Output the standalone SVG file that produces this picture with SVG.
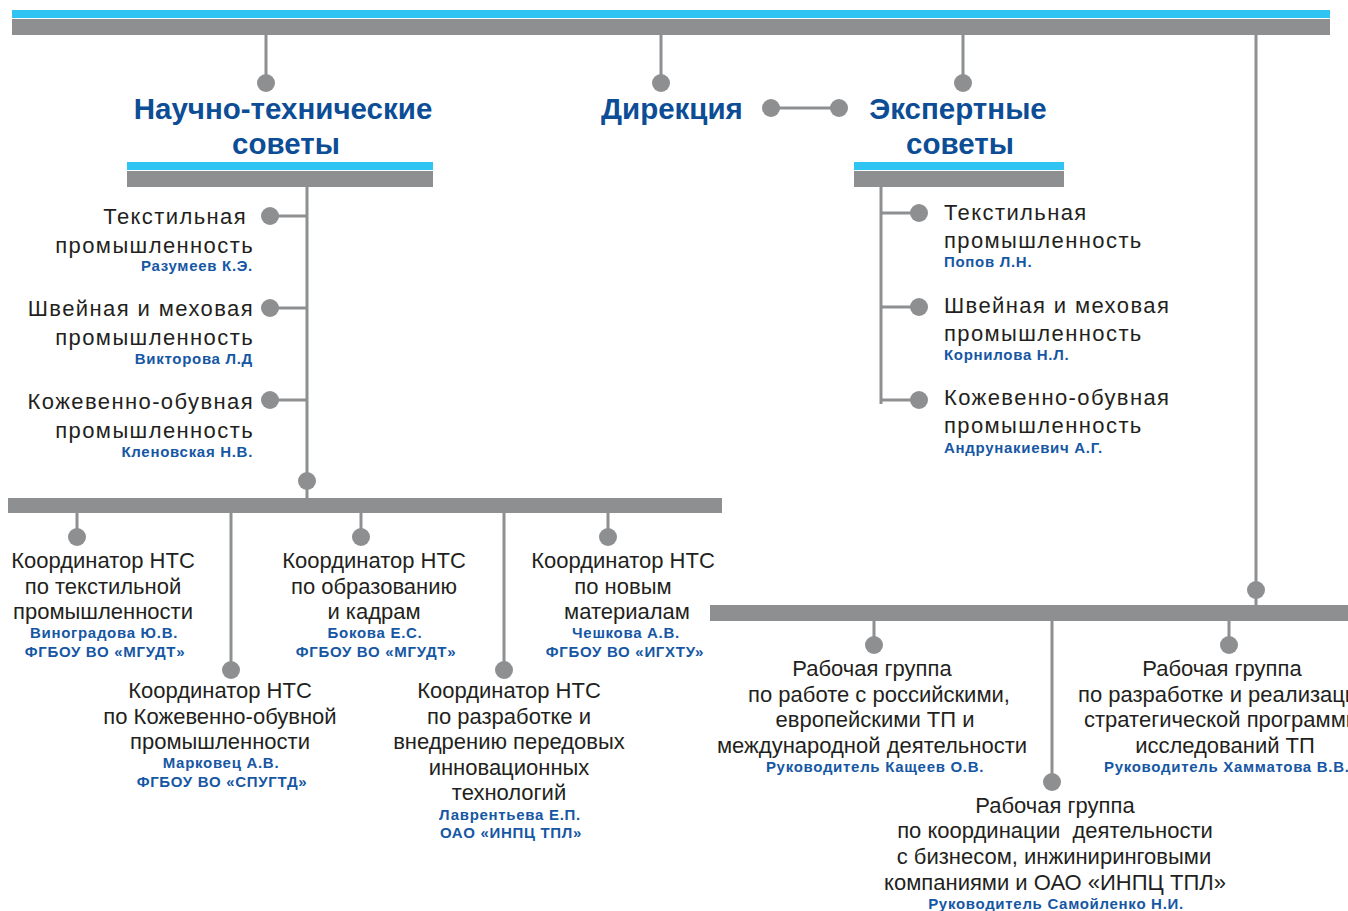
<svg xmlns="http://www.w3.org/2000/svg" width="1348" height="911" viewBox="0 0 1348 911">
<style>
.cy{fill:#2FC4F2}
.gr{fill:#8E8F91}
.ln{stroke:#8E8F91;stroke-width:3;fill:none}
.dot{fill:#8E8F91}
.t{font-family:"Liberation Sans",Arial,sans-serif;font-size:22px;fill:#231F20}
.w{letter-spacing:1.4px}
.h{font-family:"Liberation Sans",Arial,sans-serif;font-size:29.5px;font-weight:bold;fill:#0C4D96}
.n{font-family:"Liberation Sans",Arial,sans-serif;font-size:15px;font-weight:bold;fill:#1657A4;letter-spacing:0.7px}
.m{text-anchor:middle}
.e{text-anchor:end}
</style>
<rect width="1348" height="911" fill="#fff"/>

<!-- top header bar -->
<g id="top-bar">
<rect class="cy" x="12" y="10" width="1318" height="8"/>
<rect class="gr" x="12" y="19" width="1318" height="16"/>
</g>

<!-- connectors -->
<g id="connectors">
<path class="ln" d="M266 35V83M661 35V83M963 35V83M771 108H839M1256 35V605"/>
<path class="ln" d="M307 187V498M270 216H307M270 308H307M270 400H307"/>
<path class="ln" d="M881 187V404M881 213H919M881 307H919M881 400H919"/>
<path class="ln" d="M77 513V537M231 513V670M361 513V537M504 513V670M608 513V537"/>
<path class="ln" d="M874 621V645M1052 621V782M1229 621V645"/>
<g class="dot">
<circle cx="266" cy="83" r="9"/><circle cx="661" cy="83" r="9"/><circle cx="963" cy="83" r="9"/>
<circle cx="771" cy="108" r="9"/><circle cx="839" cy="108" r="9"/>
<circle cx="270" cy="216" r="9"/><circle cx="270" cy="308" r="9"/><circle cx="270" cy="400" r="9"/>
<circle cx="307" cy="481" r="9"/>
<circle cx="919" cy="213" r="9"/><circle cx="919" cy="307" r="9"/><circle cx="919" cy="400" r="9"/>
<circle cx="77" cy="537" r="9"/><circle cx="231" cy="670" r="9"/><circle cx="361" cy="537" r="9"/>
<circle cx="504" cy="670" r="9"/><circle cx="608" cy="537" r="9"/>
<circle cx="1256" cy="590" r="9"/>
<circle cx="874" cy="645" r="9"/><circle cx="1052" cy="782" r="9"/><circle cx="1229" cy="645" r="9"/>
</g>
</g>

<!-- Scientific-technical councils -->
<g id="nts">
<text class="h m" x="283" y="119">Научно-технические</text>
<text class="h m" x="286" y="154">советы</text>
<rect class="cy" x="127" y="162" width="306" height="8"/>
<rect class="gr" x="127" y="171" width="306" height="16"/>
</g>

<g id="direction">
<text class="h" x="601" y="119">Дирекция</text>
</g>

<g id="experts">
<text class="h m" x="958" y="119">Экспертные</text>
<text class="h m" x="960" y="154">советы</text>
<rect class="cy" x="854" y="162" width="210" height="8"/>
<rect class="gr" x="854" y="171" width="210" height="16"/>
</g>

<g id="nts-textile">
<text class="t w e" x="247" y="224">Текстильная</text>
<text class="t w e" x="254" y="253">промышленность</text>
<text class="n e" x="253" y="271">Разумеев К.Э.</text>
</g>
<g id="nts-sewing">
<text class="t w e" x="254" y="316">Швейная и меховая</text>
<text class="t w e" x="254" y="345">промышленность</text>
<text class="n e" x="253" y="364">Викторова Л.Д</text>
</g>
<g id="nts-leather">
<text class="t w e" x="254" y="409">Кожевенно-обувная</text>
<text class="t w e" x="254" y="438">промышленность</text>
<text class="n e" x="253" y="457">Кленовская Н.В.</text>
</g>

<g id="exp-textile">
<text class="t w" x="944" y="220">Текстильная</text>
<text class="t w" x="944" y="248">промышленность</text>
<text class="n" x="944" y="267">Попов Л.Н.</text>
</g>
<g id="exp-sewing">
<text class="t w" x="944" y="313">Швейная и меховая</text>
<text class="t w" x="944" y="341">промышленность</text>
<text class="n" x="944" y="360">Корнилова Н.Л.</text>
</g>
<g id="exp-leather">
<text class="t w" x="944" y="405">Кожевенно-обувная</text>
<text class="t w" x="944" y="433">промышленность</text>
<text class="n" x="944" y="453">Андрунакиевич А.Г.</text>
</g>

<!-- coordinators bar -->
<g id="coord-bar">
<rect class="gr" x="8" y="498" width="714" height="15"/>
</g>

<g id="coord-textile">
<text class="t m" x="103" y="568">Координатор НТС</text>
<text class="t m" x="103" y="594">по текстильной</text>
<text class="t m" x="103" y="619">промышленности</text>
<text class="n m" x="104" y="638">Виноградова Ю.В.</text>
<text class="n m" x="105" y="657">ФГБОУ ВО «МГУДТ»</text>
</g>
<g id="coord-leather">
<text class="t m" x="220" y="698">Координатор НТС</text>
<text class="t m" x="220" y="724">по Кожевенно-обувной</text>
<text class="t m" x="220" y="749">промышленности</text>
<text class="n m" x="221" y="768">Марковец А.В.</text>
<text class="n m" x="222" y="787">ФГБОУ ВО «СПУГТД»</text>
</g>
<g id="coord-education">
<text class="t m" x="374" y="568">Координатор НТС</text>
<text class="t m" x="374" y="594">по образованию</text>
<text class="t m" x="374" y="619">и кадрам</text>
<text class="n m" x="375" y="638">Бокова Е.С.</text>
<text class="n m" x="376" y="657">ФГБОУ ВО «МГУДТ»</text>
</g>
<g id="coord-innovation">
<text class="t m" x="509" y="698">Координатор НТС</text>
<text class="t m" x="509" y="724">по разработке и</text>
<text class="t m" x="509" y="749">внедрению передовых</text>
<text class="t m" x="509" y="775">инновационных</text>
<text class="t m" x="509" y="800">технологий</text>
<text class="n m" x="510" y="820">Лаврентьева Е.П.</text>
<text class="n m" x="511" y="838">ОАО «ИНПЦ ТПЛ»</text>
</g>
<g id="coord-materials">
<text class="t m" x="623" y="568">Координатор НТС</text>
<text class="t m" x="623" y="594">по новым</text>
<text class="t m" x="627" y="619">материалам</text>
<text class="n m" x="626" y="638">Чешкова А.В.</text>
<text class="n m" x="625" y="657">ФГБОУ ВО «ИГХТУ»</text>
</g>

<!-- working groups bar -->
<g id="wg-bar">
<rect class="gr" x="710" y="605" width="638" height="16"/>
</g>

<g id="wg-international">
<text class="t m" x="872" y="676">Рабочая группа</text>
<text class="t m" x="879" y="702">по работе с российскими,</text>
<text class="t m" x="875" y="727">европейскими ТП и</text>
<text class="t m" x="872" y="753">международной деятельности</text>
<text class="n m" x="875" y="772">Руководитель Кащеев О.В.</text>
</g>
<g id="wg-business">
<text class="t m" x="1055" y="813">Рабочая группа</text>
<text class="t m" x="1055" y="838">по координации&#160; деятельности</text>
<text class="t m" x="1054" y="864">с бизнесом, инжиниринговыми</text>
<text class="t m" x="1055" y="890">компаниями и ОАО «ИНПЦ ТПЛ»</text>
<text class="n m" x="1056" y="909">Руководитель Самойленко Н.И.</text>
</g>
<g id="wg-strategy">
<text class="t m" x="1222" y="676">Рабочая группа</text>
<text class="t" x="1078" y="702">по разработке и реализации</text>
<text class="t" x="1084" y="727">стратегической программы</text>
<text class="t m" x="1225" y="753">исследований ТП</text>
<text class="n" x="1104" y="772">Руководитель Хамматова В.В.</text>
</g>
</svg>
